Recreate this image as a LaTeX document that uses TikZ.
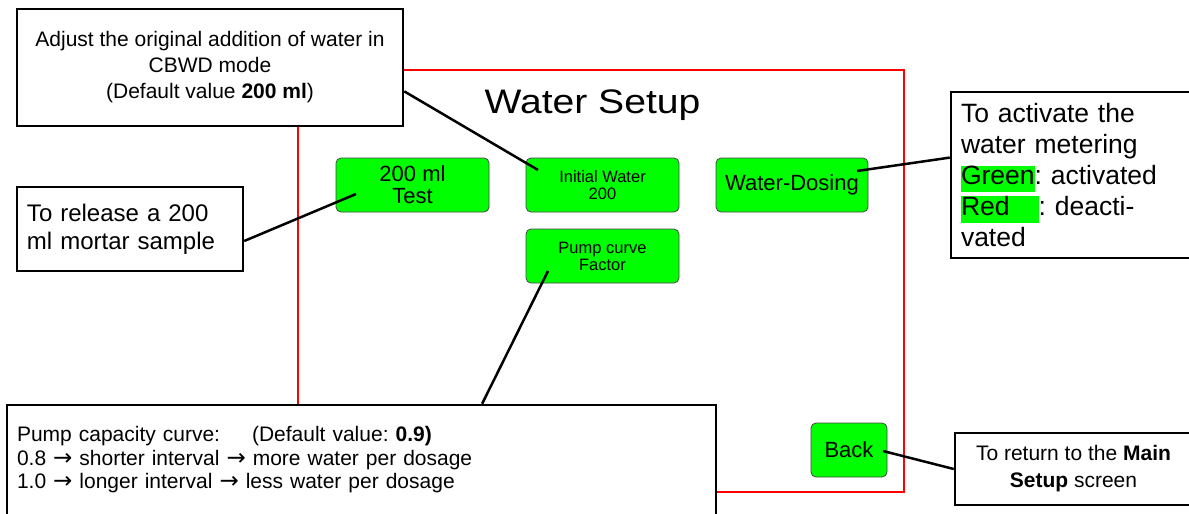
\documentclass[tikz,border=0pt]{standalone}
\usepackage{fontspec}
\setmainfont{Liberation Sans}
\newfontfamily\arrowfont{DejaVu Sans}
\definecolor{btngreen}{RGB}{0,255,0}
\definecolor{btnedge}{RGB}{70,70,70}
\setlength{\fboxsep}{0pt}
\frenchspacing
\newcommand{\greenmark}[1]{\colorbox{btngreen}{\rule[-8pt]{0pt}{23pt}#1}}
\newcommand{\thenarrow}{{\arrowfont\fontsize{23}{23}\selectfont →}}
\begin{document}
\begin{tikzpicture}[x=1pt,y=-1pt,
    button/.style={draw=btnedge,fill=btngreen,rounded corners=5pt,line width=0.8pt,inner sep=0pt,minimum width=153pt,minimum height=54pt,align=center},
    note/.style={draw=black,fill=white,line width=2.5pt,inner xsep=10pt,inner ysep=0pt},
    wire/.style={black,line width=2.5pt}]
      \useasboundingbox (0,0) rectangle (1189,514);%
      \draw[red,line width=1.5pt] (298,70) rectangle (904,492);%

      \node (T) at (592.5,105) {\fontsize{34}{40}\selectfont\scalebox{1.15}[1]{Water Setup}};%

      \node[note,minimum width=386pt,minimum height=117pt,align=center,font=\fontsize{21}{26}\selectfont] (N1) at (210,67.5) {Adjust the original addition of water in\\CBWD mode\\(Default value \textbf{200 ml})};%
      \node[note,minimum width=226pt,minimum height=84pt,text width=206pt,align=left,font=\fontsize{24}{28}\selectfont] (N2) at (130,229) {To release a 200\\ml mortar sample};%
      \node[note,minimum width=245pt,minimum height=166pt,text width=225pt,align=left,font=\fontsize{26.5}{31}\selectfont] (N3) at (1073.5,175) {To activate the\\water metering\\\greenmark{Green}: activated\\\greenmark{Red\hspace{29pt}}: deacti-\\vated};%
      \node[note,minimum width=709pt,minimum height=110pt,text width=689pt,align=left,font=\fontsize{21}{23.5}\selectfont] (N4) at (361.5,460) {Pump capacity curve:\hspace{32pt}(Default value: \textbf{0.9)}\\0.8 \thenarrow{} shorter interval \thenarrow{} more water per dosage\\1.0 \thenarrow{} longer interval \thenarrow{} less water per dosage};%
      \node[note,minimum width=237pt,minimum height=72pt,align=center,font=\fontsize{21}{27}\selectfont] (N5) at (1073.5,469) {To return to the \textbf{Main}\\\textbf{Setup} screen};%

      \node[button,font=\fontsize{22}{22}\selectfont] (B1) at (412.5,185) {200 ml\\Test};%
      \node[button,font=\fontsize{16.5}{17}\selectfont] (B2) at (602.5,185) {Initial Water\\200};%
      \node[button,font=\fontsize{16.5}{17}\selectfont] (B3) at (602.5,256) {Pump curve\\Factor};%
      \node[button,minimum width=152pt,font=\fontsize{22}{22}\selectfont] (B4) at (792,185) {Water-Dosing};%
      \node[button,minimum width=76pt,font=\fontsize{22}{22}\selectfont] (B5) at (849,450) {Back};%

      \coordinate (b1p) at (356,194);%
      \coordinate (b2p) at (538,170);%
      \coordinate (b3p) at (548,271);%
      \coordinate (b4p) at (857,171);%
      \coordinate (b5p) at (883,451);%

      \draw[wire] (N1.-7.5) -- (b2p);%
      \draw[wire] (N2.-6) -- (b1p);%
      \draw[wire] (b4p) -- (N3.172.6);%
      \draw[wire] (b3p) -- (N4.25.8);%
      \draw[wire] (b5p) -- (N5.west);%
    \end{tikzpicture}
\end{document}
